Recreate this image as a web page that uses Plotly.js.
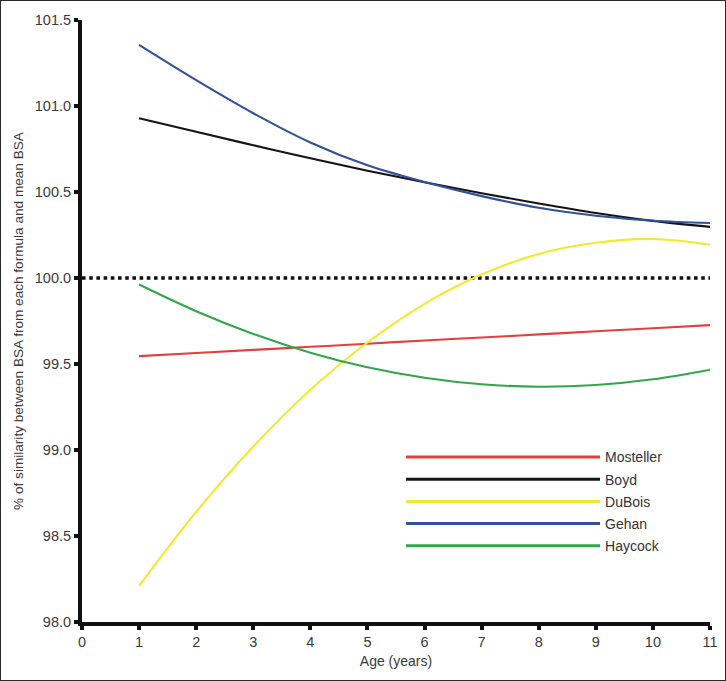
<!DOCTYPE html>
<html>
<head>
<meta charset="utf-8">
<script src="https://cdn.plot.ly/plotly-3.0.1.min.js"></script>
<style>
  html, body { margin: 0; padding: 0; background: #fff; }
  #chart { width: 726px; height: 681px; }
  #frame { position: absolute; left: 0; top: 0; width: 726px; height: 681px; box-sizing: border-box; border: 1px solid #2a2a2a; pointer-events: none; }
</style>
</head>
<body>
<div id="chart"></div>
<div id="frame"></div>
<script>
// Age in years
const ages = [1, 2, 3, 4, 5, 6, 7, 8, 9, 10, 11];

// % similarity between BSA from each formula and mean BSA
const mosteller = [99.546, 99.564, 99.582, 99.600, 99.618, 99.637, 99.654, 99.672, 99.690, 99.708, 99.726];
const boyd      = [100.929, 100.850, 100.772, 100.696, 100.624, 100.557, 100.493, 100.433, 100.378, 100.332, 100.297];
const dubois    = [98.21, 98.64, 99.02, 99.35, 99.625, 99.85, 100.02, 100.14, 100.205, 100.227, 100.194];
const gehan     = [101.355, 101.150, 100.958, 100.788, 100.655, 100.558, 100.476, 100.408, 100.362, 100.333, 100.320];
const haycock   = [99.962, 99.807, 99.675, 99.566, 99.481, 99.420, 99.382, 99.368, 99.378, 99.411, 99.467];

// Reference line (100 %)
const refX = [0, 11];
const refY = [100, 100];

const seriesNames = ["Mosteller", "Boyd", "DuBois", "Gehan", "Haycock"];
const seriesData = [mosteller, boyd, dubois, gehan, haycock];
const seriesColors = ["#e2403a", "#141414", "#f2e92e", "#33509c", "#33a64c"];

const xTicks = [0, 1, 2, 3, 4, 5, 6, 7, 8, 9, 10, 11];
const yTicks = [98.0, 98.5, 99.0, 99.5, 100.0, 100.5, 101.0, 101.5];
const yTickText = ["98.0", "98.5", "99.0", "99.5", "100.0", "100.5", "101.0", "101.5"];

const traces = [{
  x: refX, y: refY, mode: "lines", showlegend: false, hoverinfo: "skip",
  line: { color: "#111", width: 3.6, dash: "dot" }
}];
seriesNames.forEach((name, i) => {
  traces.push({
    x: ages, y: seriesData[i], name: name, mode: "lines", showlegend: false,
    legendgroup: name,
    line: { color: seriesColors[i], width: 2.1, shape: "spline", smoothing: 1 }
  });
});
// legend entries (thicker sample lines, no data drawn)
seriesNames.forEach((name, i) => {
  traces.push({
    x: [null], y: [null], name: name, mode: "lines", showlegend: true,
    legendgroup: name,
    line: { color: seriesColors[i], width: 3 }
  });
});

const font = "Arial, 'Liberation Sans', sans-serif";
const layout = {
  width: 726, height: 681,
  margin: { l: 82, r: 16, t: 20, b: 59 },
  paper_bgcolor: "#fff", plot_bgcolor: "#fff",
  font: { family: font, color: "#333", size: 14 },
  showlegend: true,
  legend: {
    x: 0.508, y: 0.300, xanchor: "left", yanchor: "top",
    font: { family: font, size: 14, color: "#333" },
    itemwidth: 194, bgcolor: "rgba(0,0,0,0)", tracegroupgap: 1
  },
  xaxis: {
    range: [0, 11], tickvals: xTicks, ticktext: xTicks.map(String),
    showgrid: false, zeroline: false,
    showline: true, linecolor: "#111", linewidth: 4,
    ticks: "outside", ticklen: 4, tickwidth: 4, tickcolor: "#111",
    tickfont: { size: 14.5, color: "#3a3a3a" },
    title: { text: "Age (years)", font: { size: 14, color: "#3a3a3a" }, standoff: 8 }
  },
  yaxis: {
    range: [98, 101.5], tickvals: yTicks, ticktext: yTickText,
    showgrid: false, zeroline: false,
    showline: true, linecolor: "#111", linewidth: 4,
    ticks: "outside", ticklen: 4, tickwidth: 4, tickcolor: "#111",
    tickfont: { size: 14.5, color: "#3a3a3a" },
    title: { text: "% of similarity between BSA from each formula and mean BSA", font: { size: 13.6, color: "#3a3a3a" }, standoff: 9 }
  }
};

Plotly.newPlot("chart", traces, layout, { staticPlot: true, displayModeBar: false });
</script>
</body>
</html>
